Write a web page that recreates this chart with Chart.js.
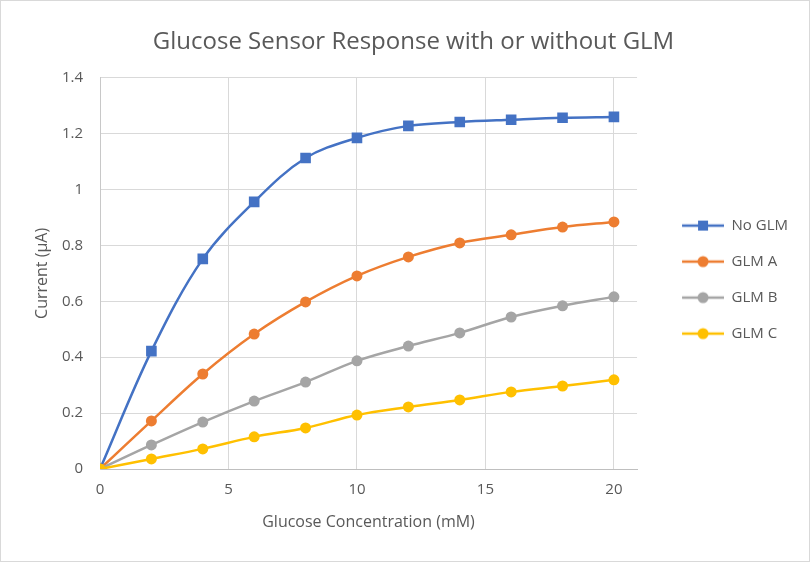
<!DOCTYPE html>
<html>
<head>
<meta charset="utf-8">
<script src="https://cdn.jsdelivr.net/npm/chart.js@4.4.1/dist/chart.umd.min.js"></script>
<style>
  html, body { margin: 0; padding: 0; background: #fff; }
  #wrap { width: 810px; height: 562px; }
</style>
</head>
<body>
<div id="wrap"><canvas id="chart" width="810" height="562"></canvas></div>
<script>
// glucose concentration (mM)
const concentrations = [0, 2, 4, 6, 8, 10, 12, 14, 16, 18, 20]

// current (µA)
const noGlm = [0, 0.422, 0.752, 0.956, 1.113, 1.185, 1.228, 1.242, 1.250, 1.257, 1.260]
const glmA  = [0, 0.172, 0.340, 0.483, 0.598, 0.691, 0.759, 0.809, 0.838, 0.866, 0.884]
const glmB  = [0, 0.086, 0.168, 0.243, 0.311, 0.387, 0.440, 0.487, 0.544, 0.584, 0.616]
const glmC  = [0, 0.036, 0.072, 0.115, 0.147, 0.193, 0.222, 0.247, 0.276, 0.297, 0.319]

const seriesNames = ["No GLM", "GLM A", "GLM B", "GLM C"]
const seriesColors = ["#4472c4", "#ed7d31", "#a5a5a5", "#ffc000"]
const seriesMarkers = ["rect", "circle", "circle", "circle"]

const FONT = "'Open Sans', 'DejaVu Sans', sans-serif"
const TEXT = "#595959"

// little line + marker image for the legend entries
function legendIcon(color, marker) {
    const c = document.createElement("canvas")
    c.width = 66
    c.height = 14
    const g = c.getContext("2d")
    g.strokeStyle = color
    g.lineWidth = 2.5
    g.beginPath()
    g.moveTo(24, 7)
    g.lineTo(66, 7)
    g.stroke()
    g.fillStyle = color
    if (marker === "rect") {
        g.fillRect(40, 2, 10, 10)
    } else {
        g.beginPath()
        g.arc(45, 7, 5.5, 0, Math.PI * 2)
        g.fill()
    }
    return c
}

const allValues = [noGlm, glmA, glmB, glmC]

const datasets = allValues.map((vals, i) => ({
    label: seriesNames[i],
    data: concentrations.map((x, j) => ({ x: x, y: vals[j] })),
    borderColor: seriesColors[i],
    backgroundColor: seriesColors[i],
    borderWidth: 2.5,
    pointStyle: seriesMarkers[i],
    pointRadius: seriesMarkers[i] === "rect" ? 7.5 : 5.5,
    pointBorderWidth: 0,
    tension: 0.35,
    order: 4 - i,
    legendIcon: legendIcon(seriesColors[i], seriesMarkers[i])
}))

const chartBorder = {
    id: "chartBorder",
    beforeDraw(chart) {
        const ctx = chart.ctx
        ctx.save()
        ctx.fillStyle = "#fff"
        ctx.fillRect(0, 0, chart.width, chart.height)
        ctx.strokeStyle = "#d9d9d9"
        ctx.lineWidth = 1
        ctx.strokeRect(0.5, 0.5, chart.width - 1, chart.height - 1)
        ctx.restore()
    }
}

new Chart(document.getElementById("chart"), {
    type: "line",
    data: { datasets: datasets },
    plugins: [chartBorder],
    options: {
        responsive: false,
        animation: false,
        layout: { padding: { left: 29, right: 12, top: 0, bottom: 26 } },
        plugins: {
            tooltip: { enabled: false },
            title: {
                display: true,
                text: "Glucose Sensor Response with or without GLM",
                color: TEXT,
                font: { family: FONT, size: 24, weight: "normal" },
                padding: { top: 28, bottom: 21 }
            },
            legend: {
                position: "right",
                title: {
                    display: true,
                    text: " ",
                    font: { size: 1 },
                    padding: 11
                },
                labels: {
                    usePointStyle: true,
                    pointStyleWidth: 66,
                    padding: 21,
                    color: TEXT,
                    font: { family: FONT, size: 15 },
                    sort: (a, b) => a.datasetIndex - b.datasetIndex,
                    generateLabels: (chart) => chart.data.datasets.map((ds, i) => ({
                        text: ds.label,
                        pointStyle: ds.legendIcon,
                        fillStyle: ds.borderColor,
                        strokeStyle: ds.borderColor,
                        lineWidth: 0,
                        fontColor: TEXT,
                        datasetIndex: i,
                        hidden: false
                    }))
                }
            }
        },
        scales: {
            x: {
                type: "linear",
                min: 0,
                max: 20.9,
                ticks: {
                    stepSize: 5,
                    includeBounds: false,
                    color: TEXT,
                    padding: 12,
                    font: { family: FONT, size: 15 }
                },
                grid: { color: "#d9d9d9", drawTicks: false },
                border: { color: "#bfbfbf" },
                title: {
                    display: true,
                    text: "Glucose Concentration (mM)",
                    color: TEXT,
                    font: { family: FONT, size: 16 }
                },
                afterFit: (scale) => { scale.height = 67 }
            },
            y: {
                min: 0,
                max: 1.4,
                ticks: {
                    stepSize: 0.2,
                    color: TEXT,
                    padding: 17,
                    font: { family: FONT, size: 15 },
                    callback: (v) => String(+v.toFixed(1))
                },
                grid: { color: "#d9d9d9", drawTicks: false },
                border: { color: "#c8c8c8" },
                title: {
                    display: true,
                    text: "Current (µA)",
                    color: TEXT,
                    font: { family: FONT, size: 16 }
                },
                afterFit: (scale) => { scale.width = 71 }
            }
        }
    }
})
</script>
</body>
</html>
